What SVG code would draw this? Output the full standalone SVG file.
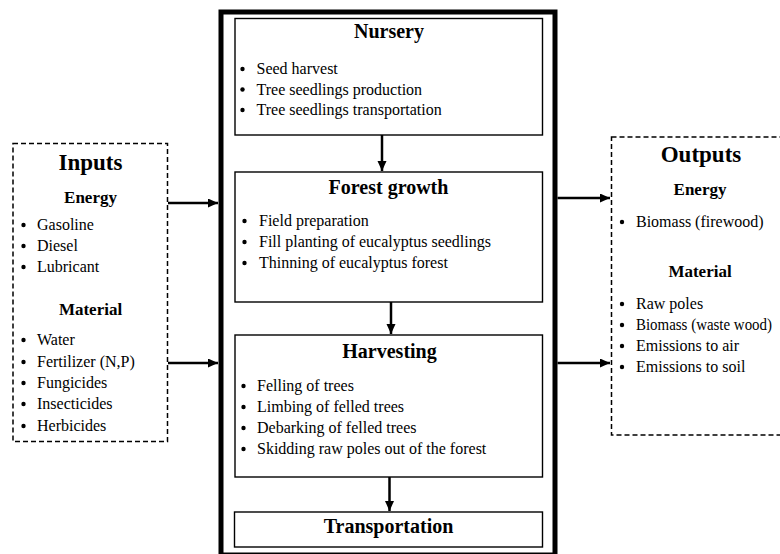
<svg xmlns="http://www.w3.org/2000/svg" width="780" height="554" viewBox="0 0 780 554">
<defs>
<marker id="ah" markerUnits="userSpaceOnUse" markerWidth="11" markerHeight="10" refX="10" refY="4.5" orient="auto">
<path d="M0,0 L10,4.5 L0,9 z" fill="#000"/>
</marker>
<style>
.t{font-family:"Liberation Serif","Times New Roman",serif;fill:#000}
.it{font-size:16px}
.h1{font-size:23px;font-weight:bold;text-anchor:middle}
.h2{font-size:17px;font-weight:bold;text-anchor:middle}
.h3{font-size:20px;font-weight:bold;text-anchor:middle}
.box{fill:#fff;stroke:#000;stroke-width:1.4}
.dash{fill:#fff;stroke:#000;stroke-width:1.5;stroke-dasharray:5,3}
.con{stroke:#000;stroke-width:2.5;fill:none;marker-end:url(#ah)}
.b{fill:#000}
</style>
</defs>
<rect width="780" height="554" fill="#fff"/>

<g id="system">
<rect x="221" y="12" width="334" height="543" fill="none" stroke="#000" stroke-width="5"/>
</g>

<g id="inputs">
<rect class="dash" x="13" y="143.5" width="154.5" height="298"/>
<text class="t h1" x="90.5" y="170">Inputs</text>
<text class="t h2" x="90.5" y="203">Energy</text>
<circle class="b" cx="23.5" cy="225" r="2.2"/><text class="t it" x="37" y="230">Gasoline</text>
<circle class="b" cx="23.5" cy="246" r="2.2"/><text class="t it" x="37" y="251">Diesel</text>
<circle class="b" cx="23.5" cy="267" r="2.2"/><text class="t it" x="37" y="272">Lubricant</text>
<text class="t h2" x="90.5" y="315">Material</text>
<circle class="b" cx="23.5" cy="340" r="2.2"/><text class="t it" x="37" y="345">Water</text>
<circle class="b" cx="23.5" cy="362" r="2.2"/><text class="t it" x="37" y="367">Fertilizer (N,P)</text>
<circle class="b" cx="23.5" cy="383" r="2.2"/><text class="t it" x="37" y="388">Fungicides</text>
<circle class="b" cx="23.5" cy="404" r="2.2"/><text class="t it" x="37" y="409">Insecticides</text>
<circle class="b" cx="23.5" cy="426" r="2.2"/><text class="t it" x="37" y="431">Herbicides</text>
</g>

<g id="outputs">
<rect class="dash" x="611.5" y="137" width="180" height="298"/>
<text class="t h1" x="701" y="162">Outputs</text>
<text class="t h2" x="700" y="195">Energy</text>
<circle class="b" cx="622" cy="222" r="2.2"/><text class="t it" x="636" y="227">Biomass (firewood)</text>
<text class="t h2" x="700" y="277">Material</text>
<circle class="b" cx="622" cy="304" r="2.2"/><text class="t it" x="636" y="309">Raw poles</text>
<circle class="b" cx="622" cy="325" r="2.2"/><text class="t it" x="636" y="330" font-size="15" textLength="136" lengthAdjust="spacingAndGlyphs">Biomass (waste wood)</text>
<circle class="b" cx="622" cy="346" r="2.2"/><text class="t it" x="636" y="351">Emissions to air</text>
<circle class="b" cx="622" cy="367" r="2.2"/><text class="t it" x="636" y="372">Emissions to soil</text>
</g>

<g id="nursery">
<rect class="box" x="235" y="18.5" width="307.5" height="116.5"/>
<text class="t h3" x="389" y="38">Nursery</text>
<circle class="b" cx="242.5" cy="69" r="2.2"/><text class="t it" x="256.5" y="74">Seed harvest</text>
<circle class="b" cx="242.5" cy="89.5" r="2.2"/><text class="t it" x="256.5" y="94.5">Tree seedlings production</text>
<circle class="b" cx="242.5" cy="110" r="2.2"/><text class="t it" x="256.5" y="115">Tree seedlings transportation</text>
</g>

<g id="forest-growth">
<rect class="box" x="235" y="172" width="307.5" height="130"/>
<text class="t h3" x="388.5" y="194">Forest growth</text>
<circle class="b" cx="244.5" cy="221" r="2.2"/><text class="t it" x="259" y="226">Field preparation</text>
<circle class="b" cx="244.5" cy="242" r="2.2"/><text class="t it" x="259" y="247">Fill planting of eucalyptus seedlings</text>
<circle class="b" cx="244.5" cy="263" r="2.2"/><text class="t it" x="259" y="268">Thinning of eucalyptus forest</text>
</g>

<g id="harvesting">
<rect class="box" x="235" y="335" width="307.5" height="142"/>
<text class="t h3" x="389.5" y="358">Harvesting</text>
<circle class="b" cx="243.5" cy="386" r="2.2"/><text class="t it" x="257" y="391">Felling of trees</text>
<circle class="b" cx="243.5" cy="407" r="2.2"/><text class="t it" x="257" y="412">Limbing of felled trees</text>
<circle class="b" cx="243.5" cy="428" r="2.2"/><text class="t it" x="257" y="433">Debarking of felled trees</text>
<circle class="b" cx="243.5" cy="449" r="2.2"/><text class="t it" x="257" y="454">Skidding raw poles out of the forest</text>
</g>

<g id="transportation">
<rect class="box" x="234.5" y="512" width="308" height="35"/>
<text class="t h3" x="388.5" y="533">Transportation</text>
</g>

<g id="connectors">
<line class="con" x1="382" y1="135" x2="382" y2="171"/>
<line class="con" x1="391" y1="302" x2="391" y2="334"/>
<line class="con" x1="389.5" y1="477" x2="389.5" y2="511"/>
<line class="con" x1="168" y1="203" x2="218" y2="203"/>
<line class="con" x1="168" y1="363" x2="218" y2="363"/>
<line class="con" x1="557.5" y1="198" x2="610" y2="198"/>
<line class="con" x1="557.5" y1="363" x2="610" y2="363"/>
</g>
</svg>
